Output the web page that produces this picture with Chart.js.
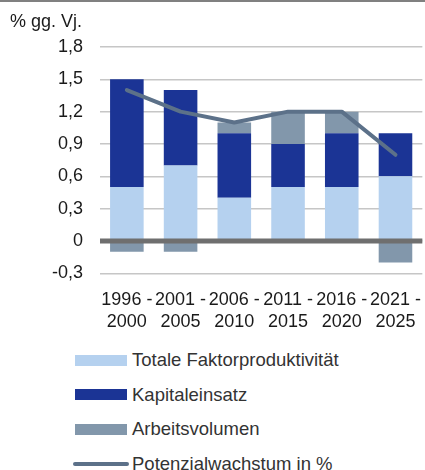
<!DOCTYPE html>
<html lang="de">
  <head>
    <meta charset="UTF-8" />
    <title>Potenzialwachstum</title>
    <script src="https://cdn.jsdelivr.net/npm/chart.js"></script>
    <style>
      body {
        margin: 0;
        background: #ffffff;
        font-family: "Liberation Sans", Arial, sans-serif;
      }
      #frame {
        position: relative;
        width: 425px;
        height: 470px;
        overflow: hidden;
        border-top: 2px solid #808080;
        box-sizing: border-box;
      }
      #unit {
        position: absolute;
        left: 10px;
        top: 9px;
        font-size: 18px;
        color: #1a1a1a;
      }
      #chartBox {
        position: absolute;
        left: 0;
        top: -2px;
        width: 428px;
        height: 335px;
      }
      /* legend, one entry per row */
      #legend {
        position: absolute;
        left: 73px;
        top: 341px;
        margin: 0;
        padding: 0;
        list-style: none;
        font-size: 18.5px;
        color: #333333;
      }
      #legend li {
        display: flex;
        align-items: center;
        height: 34.5px;
      }
      #legend .swatch {
        display: inline-block;
        width: 52px;
        height: 11px;
        margin-left: 2px;
        margin-right: 5px;
      }
      #legend .swatch.line {
        width: 56px;
        height: 4px;
        border-radius: 2px;
        margin-left: 0;
        margin-right: 3px;
      }
    </style>
  </head>
  <body>
    <div id="frame">
      <div id="chartBox"><canvas id="chart"></canvas></div>
      <div id="unit">% gg. Vj.</div>
      <ul id="legend"></ul>
    </div>

    <script>
      // Data
      var periods = [
        ["1996 -", "2000"],
        ["2001 -", "2005"],
        ["2006 -", "2010"],
        ["2011 -", "2015"],
        ["2016 -", "2020"],
        ["2021 -", "2025"],
      ];
      var tfp = [0.5, 0.7, 0.4, 0.5, 0.5, 0.6];
      var kapital = [1.0, 0.7, 0.6, 0.4, 0.5, 0.4];
      var arbeit = [-0.1, -0.1, 0.1, 0.3, 0.2, -0.2];
      var potenzial = [1.4, 1.2, 1.1, 1.2, 1.2, 0.8];
      var yTicks = [-0.3, 0, 0.3, 0.6, 0.9, 1.2, 1.5, 1.8];

      var fontSpec = { family: "'Liberation Sans', Arial, sans-serif", size: 18, lineHeight: 1.25 };

      // thick zero line on top of the bars
      var zeroLine = {
        id: "zeroLine",
        afterDatasetsDraw: function (chart) {
          var y = chart.scales.y.getPixelForValue(0);
          var ctx = chart.ctx;
          ctx.save();
          ctx.strokeStyle = "#6f6f6f";
          ctx.lineWidth = 5;
          ctx.beginPath();
          ctx.moveTo(chart.chartArea.left, y);
          ctx.lineTo(chart.chartArea.right, y);
          ctx.stroke();
          ctx.restore();
        },
      };

      var ctx = document.getElementById("chart").getContext("2d");
      var chart = new Chart(ctx, {
        type: "bar",
        data: {
          labels: periods,
          datasets: [
            {
              type: "line",
              label: "Potenzialwachstum in %",
              data: potenzial,
              borderColor: "#5c7189",
              backgroundColor: "#5c7189",
              borderWidth: 4,
              pointRadius: 0,
              tension: 0,
              borderCapStyle: "round",
              borderJoinStyle: "round",
              stack: "line",
              order: 0,
            },
            {
              label: "Totale Faktorproduktivität",
              data: tfp,
              backgroundColor: "#b5d1ef",
              stack: "bars",
              order: 1,
            },
            {
              label: "Kapitaleinsatz",
              data: kapital,
              backgroundColor: "#1b3495",
              stack: "bars",
              order: 1,
            },
            {
              label: "Arbeitsvolumen",
              data: arbeit,
              backgroundColor: "#8297ab",
              stack: "bars",
              order: 1,
            },
          ],
        },
        options: {
          responsive: true,
          maintainAspectRatio: false,
          animation: false,
          layout: { padding: { top: 47, left: 0, right: 0, bottom: 4 } },
          datasets: {
            bar: { barPercentage: 0.625, categoryPercentage: 1.0 },
          },
          plugins: {
            legend: { display: false },
            tooltip: { enabled: false },
          },
          scales: {
            x: {
              stacked: true,
              grid: { display: false },
              border: { display: false },
              afterFit: function (axis) {
                axis.height = 57.7;
              },
              ticks: {
                color: "#1a1a1a",
                font: fontSpec,
                padding: 7,
                maxRotation: 0,
                autoSkip: false,
              },
            },
            y: {
              stacked: true,
              min: -0.3,
              max: 1.8,
              afterBuildTicks: function (axis) {
                axis.ticks = yTicks.map(function (v) {
                  return { value: v };
                });
              },
              afterFit: function (axis) {
                axis.width = 100;
              },
              grid: { color: "#c6c6c6", lineWidth: 1.5, drawTicks: false },
              border: { display: false },
              ticks: {
                color: "#1a1a1a",
                font: fontSpec,
                padding: 17,
                callback: function (v) {
                  return v === 0 ? "0" : v.toFixed(1).replace(".", ",");
                },
              },
            },
          },
        },
        plugins: [zeroLine],
      });

      // HTML legend built from the chart's datasets
      var legend = document.getElementById("legend");
      [1, 2, 3, 0].forEach(function (i) {
        var ds = chart.data.datasets[i];
        var li = document.createElement("li");
        var sw = document.createElement("span");
        sw.className = "swatch" + (ds.type === "line" ? " line" : "");
        sw.style.background = ds.type === "line" ? ds.borderColor : ds.backgroundColor;
        li.appendChild(sw);
        li.appendChild(document.createTextNode(ds.label));
        legend.appendChild(li);
      });
    </script>
  </body>
</html>
